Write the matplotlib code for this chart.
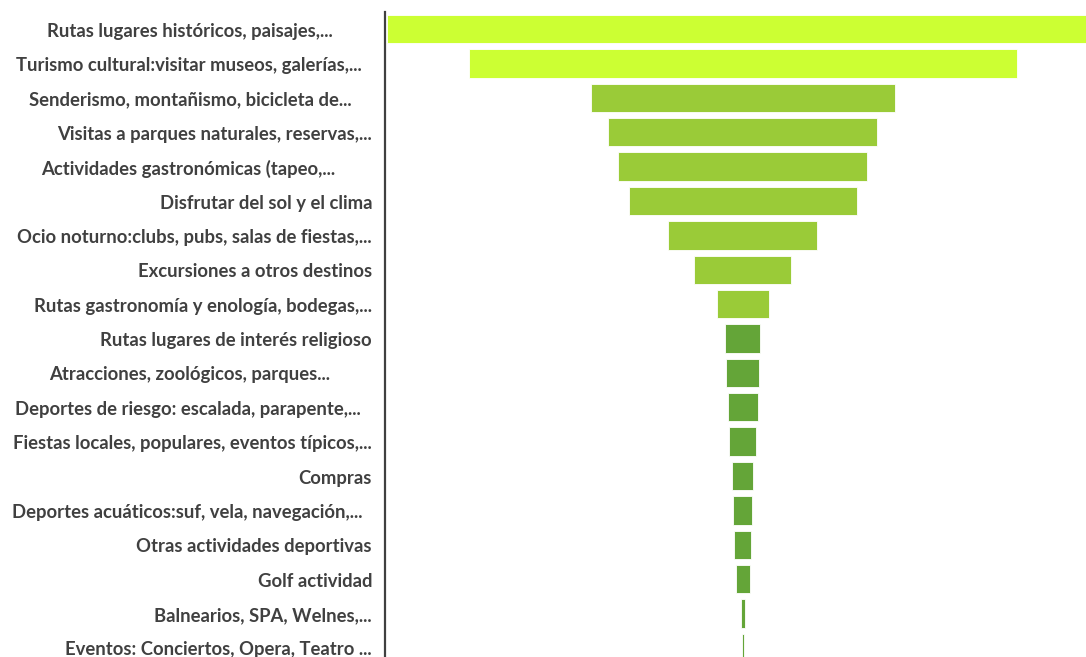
import matplotlib.pyplot as plt

# actividades (de mayor a menor)
labels = [
    "Rutas lugares históricos, paisajes,...",
    "Turismo cultural:visitar museos, galerías,...",
    "Senderismo, montañismo, bicicleta de...",
    "Visitas a parques naturales, reservas,...",
    "Actividades gastronómicas (tapeo,...",
    "Disfrutar del sol y el clima",
    "Ocio noturno:clubs, pubs, salas de fiestas,...",
    "Excursiones a otros destinos",
    "Rutas gastronomía y enología, bodegas,...",
    "Rutas lugares de interés religioso",
    "Atracciones, zoológicos, parques...",
    "Deportes de riesgo: escalada, parapente,...",
    "Fiestas locales, populares, eventos típicos,...",
    "Compras",
    "Deportes acuáticos:suf, vela, navegación,...",
    "Otras actividades deportivas",
    "Golf actividad",
    "Balnearios, SPA, Welnes,...",
    "Eventos: Conciertos, Opera, Teatro ...",
]
values = [712, 548, 304, 269, 249, 228, 149, 97, 52, 35, 33, 30, 27, 21, 19, 17, 14, 4, 2]
groups = [0, 0, 1, 1, 1, 1, 1, 1, 1, 2, 2, 2, 2, 2, 2, 2, 2, 2, 2]

group_colors = ["#CCFF33", "#9ACB38", "#64A538"]
# Excel leaves some truncated labels short of the right edge (pixels)
label_gap_px = [39, 10, 20, 0, 37, 0, 0, 0, 0, 0, 42, 11, 0, 0, 10, 0, 0, 0, 0]

W, H = 1086, 657
fig = plt.figure(figsize=(W / 100, H / 100), dpi=100)
ax_left = 385 / W
ax_top = 1 - 12 / H
ax_bottom = 1 - 665 / H
ax = fig.add_axes([ax_left, ax_bottom, 1 - ax_left, ax_top - ax_bottom])

ypos = list(range(len(values)))
lefts = [-v / 2 for v in values]
colors = [group_colors[g] for g in groups]
ax.barh(ypos, values, left=lefts, height=0.825, color=colors,
        edgecolor="#FFFFFF", linewidth=0.6)

ax.set_xlim(-357.8, 343.2)
ax.set_ylim(len(values) - 0.5, -0.5)

for s in ["top", "right", "bottom"]:
    ax.spines[s].set_visible(False)
ax.spines["left"].set_color("#404040")
ax.spines["left"].set_linewidth(1.6)
ax.set_xticks([])
ax.set_yticks([])

for y, lab, gap in zip(ypos, labels, label_gap_px):
    ax.annotate(lab, xy=(0, y), xycoords=("axes fraction", "data"),
                xytext=(-(13 + gap) * 0.72, -1.5), textcoords="offset points",
                ha="right", va="center", fontsize=13.3, fontweight="bold",
                family="Lato", color="#404040")

fig.savefig("out.png", dpi=100)
